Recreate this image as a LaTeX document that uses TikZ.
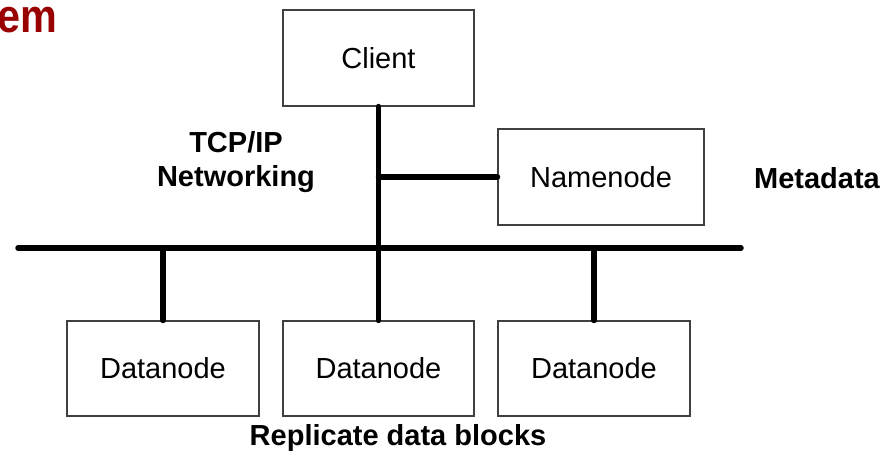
\documentclass[tikz,border=0pt]{standalone}
\usepackage{fontspec}
\setmainfont{Liberation Sans}
\begin{document}
\begin{tikzpicture}[x=1pt,y=-1pt,
  box/.style={draw=black!75,line width=1.1pt,fill=white,inner sep=0pt,
    font=\fontsize{29}{34}\selectfont},
  wire/.style={line width=5.5pt,line cap=round},
  lbl/.style={font=\fontsize{29}{34}\selectfont\bfseries,align=center}]
\definecolor{titlered}{RGB}{153,0,0}
\useasboundingbox (0,0) rectangle (893,454);
% title fragment at the top left
\node[anchor=west,text=titlered,font=\fontsize{47}{50}\selectfont\bfseries,
  inner sep=0pt,xscale=0.88,transform shape] (title) at (-3,20) {em};
% nodes
\node[box,minimum width=191pt,minimum height=96pt] (client) at (378.5,58) {Client};
\node[box,minimum width=206pt,minimum height=96pt] (nn) at (601,177) {Namenode};
\node[box,minimum width=192pt,minimum height=95pt] (d1) at (163,368.5) {Datanode};
\node[box,minimum width=191pt,minimum height=95pt] (d2) at (378.5,368.5) {Datanode};
\node[box,minimum width=192pt,minimum height=95pt] (d3) at (594,368.5) {Datanode};
% bus ends
\coordinate (busL) at (18,248);
\coordinate (busR) at (741,248);
% wiring
\draw[wire] (busL) -- (busR);
\draw[wire] (client.south) -- (d2.north);
\draw[wire] (client.south |- nn.west) -- (nn.west);
\draw[wire] (d1.north |- busL) -- (d1.north);
\draw[wire] (d3.north |- busL) -- (d3.north);
% labels
\node[lbl] (tcp) at (236,162) {TCP/IP\\Networking};
\node[lbl] (meta) at (817,178) {Metadata};
\node[lbl] (repl) at (398,438) {Replicate data blocks};
\end{tikzpicture}
\end{document}
